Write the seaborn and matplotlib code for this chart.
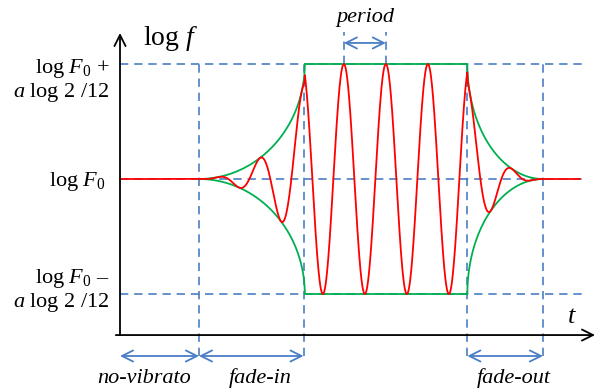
import numpy as np
import pandas as pd
import matplotlib.pyplot as plt
import seaborn as sns

# time marks, 1 unit = one vibrato period
t_fade_in = 1.88
t_full = 4.40
t_fade_out = 8.27
t_still = 10.07
t_stop = 10.95
t_line_end = 11.07
t_axis_end = 11.31
t_peak = 5.33
period = 1.0

# levels, 1 unit = a log 2 / 12
amp = 1.0
x_axis_y = -1.357
y_axis_top = 1.27
span_y = -1.539
period_y = 1.183
period_top = 1.278

span_names = ['no-vibrato', 'fade-in', 'fade-out']
span_start = [0.0, t_fade_in, t_fade_out]
span_end = [t_fade_in, t_full - 0.03, t_still]
span_label_x = [0.57, 3.33, 9.38]

blue = '#4A7EC4'
red = '#FF0000'
green = '#00B050'

sns.set_style('white')
plt.rcParams['font.family'] = ['Liberation Serif', 'DejaVu Serif']
plt.rcParams['text.color'] = 'black'
plt.rcParams['mathtext.fontset'] = 'custom'
plt.rcParams['mathtext.rm'] = 'Liberation Serif'
plt.rcParams['mathtext.it'] = 'Liberation Serif:italic'


def envelope(t):
    e = np.zeros_like(t)
    m = (t >= t_fade_in) & (t < t_full)
    f = (t[m] - t_fade_in) / (t_full - t_fade_in)
    e[m] = 1 - np.sqrt(1 - f ** 2)
    m = (t >= t_full) & (t <= t_fade_out)
    e[m] = 1
    m = (t > t_fade_out) & (t < t_still)
    g = (t_still - t[m]) / (t_still - t_fade_out)
    e[m] = 1 - np.sqrt(1 - g ** 2)
    return amp * e


t = np.linspace(0, t_stop, 6000)
red_df = pd.DataFrame({'t': t, 'v': envelope(t) * np.cos(2 * np.pi * (t - t_peak) / period)})

tg = np.unique(np.concatenate([np.linspace(t_fade_in, t_still, 4000),
                               t_full - np.geomspace(1e-6, 0.3, 400),
                               t_fade_out + np.geomspace(1e-6, 0.3, 400),
                               [t_full, t_fade_out]]))
env = envelope(tg)
env[tg == t_full] = amp
env[tg == t_fade_out] = amp
green_df = pd.DataFrame({'t': tg, 'up': env, 'down': -env})

fig = plt.figure(figsize=(6, 3.92), dpi=100)
ax = fig.add_axes([0, 0, 1, 1])
ax.set_xlim(-120 / 42, 480 / 42)
ax.set_ylim(-213 / 115, 179 / 115)
ax.axis('off')

dash = (0, (5, 3.5))
ax.hlines([amp, 0, -amp], 0, t_line_end, colors=blue, linestyles=dash, lw=1.2, zorder=1)
ax.vlines([t_fade_in, t_full - 0.03, t_fade_out, t_still], span_y, amp, colors=blue,
          linestyles=dash, lw=1.2, zorder=1)
ax.vlines([t_peak, t_peak + period], amp, period_top, colors=blue, linestyles=dash, lw=1.2, zorder=1)

sns.lineplot(data=green_df, x='t', y='up', color=green, lw=1.3, estimator=None, ax=ax, zorder=2)
sns.lineplot(data=green_df, x='t', y='down', color=green, lw=1.3, estimator=None, ax=ax, zorder=2)
sns.lineplot(data=red_df, x='t', y='v', color=red, lw=1.3, estimator=None, ax=ax, zorder=3)

# axes with arrows
head = '->,head_length=0.8,head_width=0.4'
ax.annotate('', xy=(0, y_axis_top), xytext=(0, x_axis_y),
            arrowprops=dict(arrowstyle=head, color='black', lw=1.3, shrinkA=0, shrinkB=0))
ax.annotate('', xy=(t_axis_end, x_axis_y), xytext=(-0.1, x_axis_y),
            arrowprops=dict(arrowstyle=head, color='black', lw=1.3, shrinkA=0, shrinkB=0))

dbl = '<->,head_length=0.8,head_width=0.4'
for name, a, b, lx in zip(span_names, span_start, span_end, span_label_x):
    ax.annotate('', xy=(b, span_y), xytext=(a, span_y),
                arrowprops=dict(arrowstyle=dbl, color=blue, lw=1.3, shrinkA=0, shrinkB=0))
    ax.text(lx, -1.774, name, style='italic', fontsize=16, ha='center', va='baseline')
ax.annotate('', xy=(t_peak + period, period_y), xytext=(t_peak, period_y),
            arrowprops=dict(arrowstyle=dbl, color=blue, lw=1.3, shrinkA=0, shrinkB=0))
ax.text(t_peak + period / 2, 1.365, 'period', style='italic', fontsize=16, ha='center', va='baseline')

ax.text(0.548, 1.165, r'log $f$', fontsize=20, ha='left', va='baseline')
ax.text(10.76, -1.252, 't', style='italic', fontsize=19, ha='center', va='baseline')

lx = -0.238
ax.text(lx, 0.922, r'log $F_0$ +', fontsize=16, ha='right', va='baseline')
ax.text(lx, 0.713, r'$a$ log 2 /12', fontsize=16, ha='right', va='baseline')
ax.text(-0.33, -0.06, r'log $F_0$', fontsize=16, ha='right', va='baseline')
ax.text(lx, -0.904, r'log $F_0$ –', fontsize=16, ha='right', va='baseline')
ax.text(lx, -1.113, r'$a$ log 2 /12', fontsize=16, ha='right', va='baseline')

fig.savefig('out.png', dpi=100)
